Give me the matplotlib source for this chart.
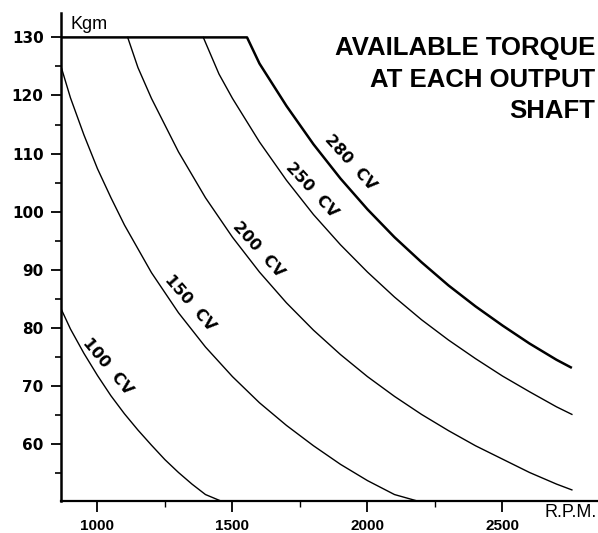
import matplotlib.pyplot as plt
import numpy as np

# torque curves (rpm, Kgm)
rpm_100 = [865, 900, 950, 1000, 1050, 1100, 1150, 1200, 1250, 1300, 1350, 1400, 1454]
kgm_100 = [83.3, 79.8, 75.6, 71.8, 68.3, 65.2, 62.4, 59.8, 57.3, 55.1, 53.1, 51.3, 50.25]

rpm_150 = [865, 900, 950, 1000, 1050, 1100, 1200, 1300, 1400, 1500, 1600, 1700, 1800,
           1900, 2000, 2100, 2180]
kgm_150 = [125.0, 119.6, 113.2, 107.4, 102.4, 97.7, 89.5, 82.6, 76.7, 71.6, 67.1, 63.2,
           59.7, 56.5, 53.7, 51.3, 50.25]

rpm_200 = [1112, 1150, 1200, 1300, 1400, 1500, 1600, 1700, 1800, 1900, 2000, 2100, 2200,
           2300, 2400, 2500, 2600, 2700, 2757]
kgm_200 = [130.0, 124.8, 119.5, 110.3, 102.4, 95.6, 89.6, 84.3, 79.6, 75.4, 71.6, 68.2,
           65.1, 62.3, 59.7, 57.4, 55.1, 53.1, 52.1]

rpm_250 = [1392, 1450, 1500, 1600, 1700, 1800, 1900, 2000, 2100, 2200, 2300, 2400, 2500,
           2600, 2700, 2757]
kgm_250 = [130.0, 123.7, 119.5, 112.0, 105.4, 99.5, 94.3, 89.6, 85.3, 81.4, 77.9, 74.7,
           71.7, 69.0, 66.4, 65.1]

rpm_280 = [865, 1554, 1600, 1700, 1800, 1900, 2000, 2100, 2200, 2300, 2400, 2500, 2600,
           2700, 2757]
kgm_280 = [130.0, 130.0, 125.5, 118.2, 111.6, 105.7, 100.4, 95.6, 91.3, 87.3, 83.7, 80.4,
           77.3, 74.5, 73.1]

curve_labels = ["100  CV", "150  CV", "200  CV", "250  CV", "280  CV"]
label_rpm = [1036, 1343, 1594, 1795, 1936]
label_kgm = [73.4, 84.3, 93.4, 103.7, 108.5]
label_rot = [-50, -49, -48, -47, -48]

y_ticks = [60, 70, 80, 90, 100, 110, 120, 130]
x_ticks = [1000, 1500, 2000, 2500]

fig = plt.figure(figsize=(5.98, 5.33), dpi=100)
ax = fig.add_axes([61 / 598, 32.3 / 533, 536 / 598, 487.7 / 533])

ax.plot(rpm_100, kgm_100, color="black", lw=1.0)
ax.plot(rpm_150, kgm_150, color="black", lw=1.0)
ax.plot(rpm_200, kgm_200, color="black", lw=1.0)
ax.plot(rpm_250, kgm_250, color="black", lw=1.0)
ax.plot(rpm_280, kgm_280, color="black", lw=1.8, solid_capstyle="butt")

for txt, x, y, r in zip(curve_labels, label_rpm, label_kgm, label_rot):
    ax.text(x, y, txt, rotation=r, rotation_mode="anchor", ha="center", va="center",
            fontsize=11.5, fontweight="bold", family="DejaVu Sans")

ax.set_xlim(865, 2850)
ax.set_ylim(50.24, 134.2)

for s in ["top", "right"]:
    ax.spines[s].set_visible(False)
ax.spines["left"].set_linewidth(1.8)
ax.spines["bottom"].set_linewidth(1.6)

ax.set_yticks(y_ticks)
ax.set_yticklabels([str(v) for v in y_ticks], fontsize=11, fontweight="bold",
                   family="DejaVu Sans")
ax.set_yticks(np.arange(55, 130, 10), minor=True)
ax.set_xticks(x_ticks)
ax.set_xticklabels([str(v) for v in x_ticks], fontsize=11, fontweight="bold",
                   family="Liberation Sans")
ax.set_xticks([1250, 1750, 2250], minor=True)
ax.tick_params(axis="y", which="major", length=7.5, width=1.3, pad=5)
ax.tick_params(axis="y", which="minor", length=4, width=1.2)
ax.tick_params(axis="x", which="major", length=8, width=1.3, pad=5)
ax.tick_params(axis="x", which="minor", length=4.5, width=1.0)

fig.text(70 / 598, 1 - 29 / 533, "Kgm", fontsize=13, family="Liberation Sans",
         va="baseline", ha="left")
fig.text(597 / 598, 1 - 517 / 533, "R.P.M.", fontsize=13, family="Liberation Sans",
         va="baseline", ha="right")
fig.text(595 / 598, 1 - 36 / 533, "AVAILABLE TORQUE\nAT EACH OUTPUT\nSHAFT",
         fontsize=18.5, fontweight="bold", family="Liberation Sans",
         ha="right", va="top", multialignment="right", linespacing=1.4)

plt.savefig("out.png", dpi=100)
